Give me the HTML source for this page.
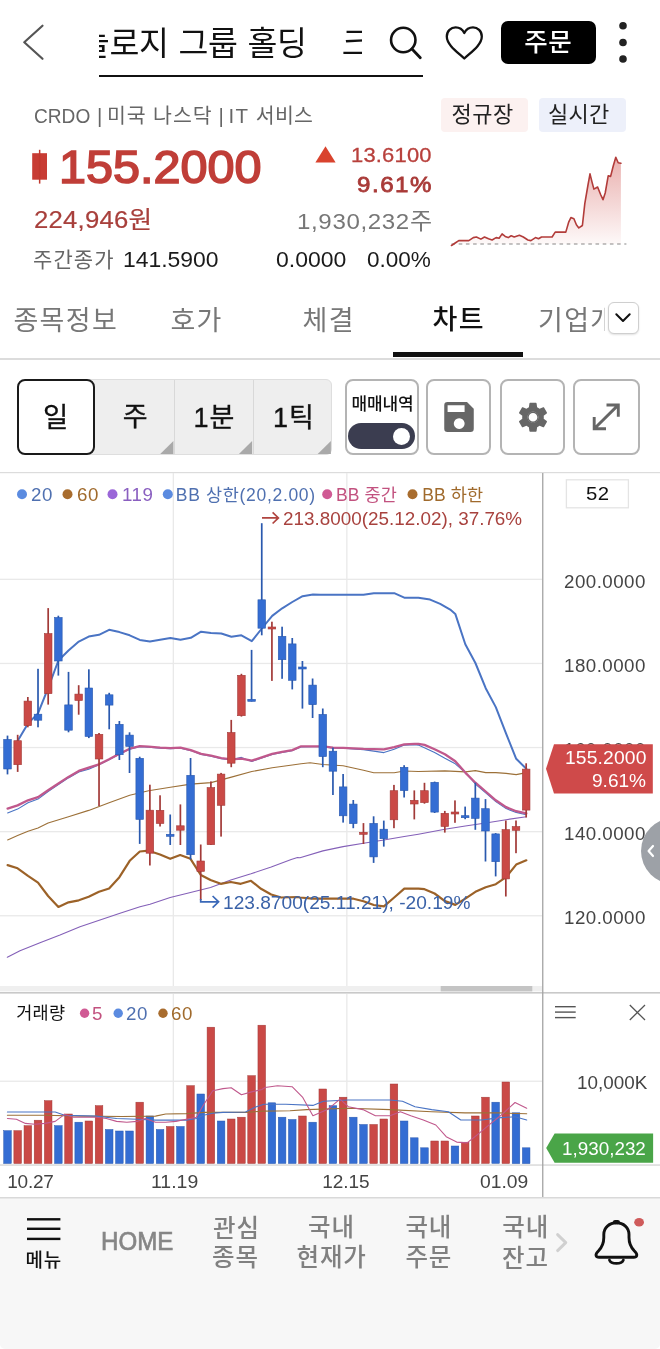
<!DOCTYPE html>
<html lang="ko"><head><meta charset="utf-8"><title>CRDO 차트</title>
<style>
html,body{margin:0;padding:0;background:#fff}
body{width:660px;height:1349px;position:relative;overflow:hidden;font-family:"Liberation Sans","Noto Sans CJK KR",sans-serif}
.t{position:absolute;white-space:pre;line-height:1}
.a{position:absolute}
svg{position:absolute;left:0;top:0}
</style></head><body>

<div class="a" style="left:98.7px;top:0;width:263.4px;height:74px;overflow:hidden">
<span class="t" style="left:10.80px;top:28.00px;font-size:32.5px;letter-spacing:-0.29px;word-spacing:1px;color:#111">로지 그룹 홀딩</span>
<span class="t" style="right:252.60px;top:28.00px;font-size:32.5px;letter-spacing:-0.29px;word-spacing:1px;color:#111">크레도 테크놀</span>
<span class="t" style="left:243.10px;top:28.00px;font-size:32.5px;letter-spacing:-0.29px;word-spacing:1px;color:#111">크레도 테크놀로지 그룹 홀딩</span>
</div>
<div class="a" style="left:98.7px;top:75.4px;width:324.3px;height:2.1px;background:#111"></div>
<div class="a" style="left:500.5px;top:20.75px;width:95.25px;height:43.5px;border-radius:7px;background:#000"></div>
<span class="t" style="left:524.25px;top:30.00px;font-size:25.5px;font-weight:500;letter-spacing:0.5px;color:#fff;">주문</span>
<svg width="660" height="95" viewBox="0 0 660 95">
<path d="M42.5 25.75 L24.25 42.2 L42.5 58.75" fill="none" stroke="#555" stroke-width="2.2" stroke-linecap="round" stroke-linejoin="round"/>
<circle cx="403.25" cy="40" r="12.2" fill="none" stroke="#111" stroke-width="2.6"/>
<path d="M412 49 L420.3 57.8" stroke="#111" stroke-width="2.8" stroke-linecap="round"/>
<path d="M464.3 58.5 C458 52.5 446.8 45 446.8 36.5 C446.8 31 451 27.4 455.6 27.4 C459.4 27.4 462.6 29.6 464.3 33 C466 29.6 469.2 27.4 473 27.4 C477.6 27.4 481.8 31 481.8 36.5 C481.8 45 470.6 52.5 464.3 58.5 Z" fill="none" stroke="#111" stroke-width="2.3" stroke-linejoin="round"/>
<circle cx="623" cy="25.75" r="3.8" fill="#222"/><circle cx="623" cy="42.5" r="3.8" fill="#222"/><circle cx="623" cy="59" r="3.8" fill="#222"/>
</svg>
<span class="t" style="left:34.07px;top:105.50px;font-size:20.5px;transform:scaleX(0.932);transform-origin:0 0;color:#666;">CRDO</span>
<span class="t" style="left:97.00px;top:105.50px;font-size:20.5px;color:#666;">|</span>
<span class="t" style="left:107.00px;top:106.25px;font-size:20.5px;letter-spacing:0.9px;color:#666;">미국 나스닥</span>
<span class="t" style="left:218.40px;top:105.50px;font-size:20.5px;color:#666;">|</span>
<span class="t" style="left:228.50px;top:105.50px;font-size:20.5px;letter-spacing:1.2px;color:#666;">IT</span>
<span class="t" style="left:255.80px;top:106.25px;font-size:20.5px;letter-spacing:0.25px;color:#666;">서비스</span>
<div class="a" style="left:441px;top:98px;width:87px;height:34px;border-radius:4px;background:#fcf1f0"></div>
<div class="a" style="left:538.5px;top:98px;width:87.5px;height:34px;border-radius:4px;background:#edf0fa"></div>
<span class="t" style="left:451.50px;top:104.25px;font-size:22.0px;letter-spacing:0.5px;color:#222;">정규장</span>
<span class="t" style="left:548.00px;top:104.25px;font-size:22.0px;letter-spacing:0.25px;color:#222;">실시간</span>
<span class="t" style="left:58.80px;top:144.55px;font-size:45.5px;letter-spacing:0.01px;transform:scaleX(1.067);transform-origin:0 0;-webkit-text-stroke:1.6px #c03e38;color:#c03e38;">155.2000</span>
<span class="t" style="left:350.63px;top:144.50px;font-size:20.5px;letter-spacing:0.19px;transform:scaleX(1.07);transform-origin:0 0;-webkit-text-stroke:0.3px #b8403c;color:#b8403c;">13.6100</span>
<span class="t" style="left:357.43px;top:173.85px;font-size:22.5px;letter-spacing:1.44px;transform:scaleX(1.07);transform-origin:0 0;-webkit-text-stroke:0.8px #a93a38;color:#a93a38;">9.61%</span>
<span class="t" style="left:33.93px;top:207.75px;font-size:24.0px;letter-spacing:0.22px;transform:scaleX(1.07);transform-origin:0 0;-webkit-text-stroke:0.2px #a8403c;color:#a8403c;">224,946원</span>
<span class="t" style="left:296.86px;top:210.80px;font-size:22.5px;letter-spacing:0.6px;transform:scaleX(1.07);transform-origin:0 0;color:#777;">1,930,232주</span>
<span class="t" style="left:33.00px;top:249.20px;font-size:21.0px;letter-spacing:1.1px;color:#666;">주간종가</span>
<span class="t" style="left:122.92px;top:249.25px;font-size:22.0px;letter-spacing:-0.01px;transform:scaleX(1.042);transform-origin:0 0;color:#1a1a1a;">141.5900</span>
<span class="t" style="left:276.45px;top:249.25px;font-size:22.0px;transform:scaleX(1.046);transform-origin:0 0;color:#1a1a1a;">0.0000</span>
<span class="t" style="left:366.98px;top:249.25px;font-size:22.0px;letter-spacing:-0.01px;transform:scaleX(1.025);transform-origin:0 0;color:#1a1a1a;">0.00%</span>
<svg width="660" height="290" viewBox="0 0 660 290">
<defs><linearGradient id="mg" x1="0" y1="0" x2="0" y2="1"><stop offset="0" stop-color="#d0504c" stop-opacity="0.45"/><stop offset="1" stop-color="#d0504c" stop-opacity="0.03"/></linearGradient></defs>
<rect x="32.2" y="153.2" width="14.8" height="26.5" fill="#c83c34"/><rect x="38.9" y="149.8" width="1.5" height="33.8" fill="#c0392f"/>
<path d="M325.5 146.3 L335.6 162.4 L315.4 162.4 Z" fill="#d9432e"/>
<path d="M451.5 244 L626.4 244" stroke="#b0b0b0" stroke-width="1.5" stroke-dasharray="3.6 3.6"/>
<path d="M451.5 245.5 L455.2 243.0 L458.8 240.6 L468.8 240.6 L473.3 237.6 L476.4 237.0 L480.9 239.1 L484.5 237.0 L488.5 238.8 L492.1 240.0 L496.1 237.6 L499.1 238.2 L502.1 233.9 L505.2 236.4 L508.2 237.6 L511.2 235.8 L514.2 237.0 L519.4 235.2 L523.3 237.0 L527.9 240.0 L530.9 240.6 L535.5 237.6 L538.5 238.8 L541.5 237.0 L552.1 237.0 L555.2 232.1 L565.8 232.1 L568.8 221.8 L570.9 217.6 L573.9 218.8 L576.4 224.8 L578.8 227.9 L582.4 225.5 L584.8 203.6 L587.9 185.5 L590.0 173.9 L592.1 182.4 L593.9 189.1 L597.6 187.0 L600.6 194.5 L603.0 199.7 L605.2 193.0 L608.2 175.8 L610.6 176.4 L613.3 165.8 L615.8 157.3 L618.2 162.7 L620.9 163.3 L620.9 244 L451.5 244 Z" fill="url(#mg)"/>
<path d="M451.5 245.5 L455.2 243.0 L458.8 240.6 L468.8 240.6 L473.3 237.6 L476.4 237.0 L480.9 239.1 L484.5 237.0 L488.5 238.8 L492.1 240.0 L496.1 237.6 L499.1 238.2 L502.1 233.9 L505.2 236.4 L508.2 237.6 L511.2 235.8 L514.2 237.0 L519.4 235.2 L523.3 237.0 L527.9 240.0 L530.9 240.6 L535.5 237.6 L538.5 238.8 L541.5 237.0 L552.1 237.0 L555.2 232.1 L565.8 232.1 L568.8 221.8 L570.9 217.6 L573.9 218.8 L576.4 224.8 L578.8 227.9 L582.4 225.5 L584.8 203.6 L587.9 185.5 L590.0 173.9 L592.1 182.4 L593.9 189.1 L597.6 187.0 L600.6 194.5 L603.0 199.7 L605.2 193.0 L608.2 175.8 L610.6 176.4 L613.3 165.8 L615.8 157.3 L618.2 162.7 L620.9 163.3" fill="none" stroke="#b23c3a" stroke-width="1.6" stroke-linejoin="round" stroke-linecap="round"/>
</svg>
<span class="t" style="left:13.40px;top:307.90px;font-size:27px;letter-spacing:1.37px;color:#777;">종목정보</span>
<span class="t" style="left:170.45px;top:307.90px;font-size:27px;letter-spacing:1.3px;color:#777;">호가</span>
<span class="t" style="left:302.50px;top:307.90px;font-size:27px;letter-spacing:1.3px;color:#777;">체결</span>
<span class="t" style="left:432.50px;top:307.35px;font-size:27px;font-weight:500;letter-spacing:1.3px;color:#111;">차트</span>
<div class="a" style="left:530px;top:295px;width:75.3px;height:50px;overflow:hidden"><span class="t" style="left:8.00px;top:12.90px;font-size:27px;letter-spacing:1.3px;color:#777">기업개요</span></div>
<div class="a" style="left:0;top:357.6px;width:660px;height:2px;background:#dcdcdc"></div>
<div class="a" style="left:392.7px;top:351.6px;width:130.7px;height:5.8px;background:#111"></div>
<div class="a" style="left:608px;top:302.3px;width:29px;height:29.5px;border:1.3px solid #cfcfcf;border-radius:6px;background:#fff;box-shadow:0 1px 2px rgba(0,0,0,.12)"></div>
<svg width="660" height="360" viewBox="0 0 660 360"><path d="M616.3 314.3 L623 321 L629.7 314.3" fill="none" stroke="#111" stroke-width="2" stroke-linecap="round" stroke-linejoin="round"/></svg>
<div class="a" style="left:90px;top:378.8px;width:241.6px;height:75.8px;background:#eee;border-radius:0 6px 6px 0;border:1px solid #dedede;box-sizing:border-box"></div>
<div class="a" style="left:174.0px;top:379.5px;width:1.2px;height:74.5px;background:#d8d8d8"></div>
<div class="a" style="left:252.7px;top:379.5px;width:1.2px;height:74.5px;background:#d8d8d8"></div>
<svg width="660" height="470" viewBox="0 0 660 470">
<path d="M173.4 441 L173.4 454 L160.2 454 Z" fill="#a9a9a9"/>
<path d="M252.1 441 L252.1 454 L238.9 454 Z" fill="#a9a9a9"/>
<path d="M330.9 441 L330.9 454 L317.7 454 Z" fill="#a9a9a9"/>
</svg>
<div class="a" style="left:17px;top:378.75px;width:78px;height:75.75px;box-sizing:border-box;border:2px solid #1a1a1a;border-radius:8px;background:#fff"></div>
<span class="t" style="left:43.00px;top:404.12px;font-size:27.5px;-webkit-text-stroke:0.35px #111;color:#111;">일</span>
<span class="t" style="left:122.75px;top:403.88px;font-size:27px;-webkit-text-stroke:0.35px #111;color:#111;">주</span>
<span class="t" style="left:193.40px;top:404.70px;font-size:27px;letter-spacing:1px;-webkit-text-stroke:0.35px #111;color:#111;">1분</span>
<span class="t" style="left:272.95px;top:404.70px;font-size:27px;letter-spacing:1px;-webkit-text-stroke:0.35px #111;color:#111;">1틱</span>
<div class="a" style="left:345.00px;top:378.75px;width:73.75px;height:75.75px;box-sizing:border-box;border:2px solid #b4b4b4;border-radius:8px;background:#fff"></div>
<div class="a" style="left:425.50px;top:378.75px;width:65.75px;height:75.75px;box-sizing:border-box;border:2px solid #b4b4b4;border-radius:8px;background:#fff"></div>
<div class="a" style="left:499.50px;top:378.75px;width:65.50px;height:75.75px;box-sizing:border-box;border:2px solid #b4b4b4;border-radius:8px;background:#fff"></div>
<div class="a" style="left:573.25px;top:378.75px;width:66.25px;height:75.75px;box-sizing:border-box;border:2px solid #b4b4b4;border-radius:8px;background:#fff"></div>
<span class="t" style="left:351.50px;top:396.15px;font-size:17px;font-weight:500;letter-spacing:-0.17px;color:#111;">매매내역</span>
<div class="a" style="left:348px;top:423px;width:67px;height:25.75px;border-radius:13px;background:#3b3d50"></div>
<div class="a" style="left:392.6px;top:427.6px;width:17.4px;height:17.4px;border-radius:50%;background:#fff"></div>
<svg width="660" height="470" viewBox="0 0 660 470">
<path fill="#666" fill-rule="evenodd" d="M447.5 402 H467 L473.75 408.7 V428.8 A3.2 3.2 0 0 1 470.5 432 H447.5 A3.2 3.2 0 0 1 444.25 428.8 V405.2 A3.2 3.2 0 0 1 447.5 402 Z M447.6 405.2 V412 H464.6 V405.2 Z M459.2 418.2 A5.4 5.4 0 1 0 459.21 418.2 Z"/>
<g transform="translate(515,399.25) scale(1.5)"><path fill="#666" d="M19.14 12.94c.04-.3.06-.61.06-.94 0-.32-.02-.64-.07-.94l2.03-1.58c.18-.14.23-.41.12-.61l-1.92-3.32c-.12-.22-.37-.29-.59-.22l-2.39.96c-.5-.38-1.03-.7-1.62-.94l-.36-2.54c-.04-.24-.24-.41-.48-.41h-3.84c-.24 0-.43.17-.47.41l-.36 2.54c-.59.24-1.13.57-1.62.94l-2.39-.96c-.22-.08-.47 0-.59.22L2.74 8.87c-.12.21-.08.47.12.61l2.03 1.58c-.05.3-.09.63-.09.94s.02.64.07.94l-2.03 1.58c-.18.14-.23.41-.12.61l1.92 3.32c.12.22.37.29.59.22l2.39-.96c.5.38 1.03.7 1.62.94l.36 2.54c.05.24.24.41.48.41h3.84c.24 0 .44-.17.47-.41l.36-2.54c.59-.24 1.13-.56 1.62-.94l2.39.96c.22.08.47 0 .59-.22l1.92-3.32c.12-.22.07-.47-.12-.61l-2.01-1.58zM12 15.6c-1.98 0-3.6-1.62-3.6-3.6s1.62-3.6 3.6-3.6 3.6 1.62 3.6 3.6-1.62 3.6-3.6 3.6z"/></g>
<path d="M595 428 L617.6 405.6 M606.5 405 H618.3 V416.8 M594.2 417 V428.8 H606" fill="none" stroke="#666" stroke-width="2.9"/>
<circle cx="533" cy="417.25" r="5" fill="none" stroke="#666" stroke-width="1.3"/>
</svg>
<svg width="660" height="1200" viewBox="0 0 660 1200">
<rect x="0" y="472" width="660" height="1.2" fill="#dcdcdc"/>
<rect x="0" y="578.7" width="542" height="1.3" fill="#e9e9e9"/>
<rect x="0" y="662.8" width="542" height="1.3" fill="#e9e9e9"/>
<rect x="0" y="746.9" width="542" height="1.3" fill="#e9e9e9"/>
<rect x="0" y="831.0" width="542" height="1.3" fill="#e9e9e9"/>
<rect x="0" y="915.1" width="542" height="1.3" fill="#e9e9e9"/>
<rect x="172.7" y="473" width="1.3" height="513" fill="#e9e9e9"/>
<rect x="172.7" y="994" width="1.3" height="170" fill="#e9e9e9"/>
<rect x="346.2" y="473" width="1.3" height="513" fill="#e9e9e9"/>
<rect x="346.2" y="994" width="1.3" height="170" fill="#e9e9e9"/>
<rect x="0" y="1080.6" width="542" height="1.3" fill="#e9e9e9"/>
<rect x="0" y="986" width="542" height="5.4" fill="#efefef"/>
<rect x="440.7" y="986" width="91.6" height="5.4" fill="#c4c4c4"/>
<rect x="0" y="992" width="660" height="1.6" fill="#c9c9c9"/>
<rect x="0" y="1164.4" width="660" height="1.3" fill="#d4d4d4"/>
<rect x="0" y="1197" width="660" height="1.6" fill="#d9d9d9"/>
<rect x="542.1" y="473" width="1.3" height="724" fill="#a4a4a4"/>
<path d="M7.6 839.9 L17.6 835.6 L28.0 831.3 L38.0 828.0 L48.1 823.0 L68.5 816.7 L88.7 810.4 L109.1 802.8 L129.7 795.3 L148.6 790.8 L170.4 787.2 L190.8 784.1 L211.0 782.6 L231.4 777.1 L251.8 771.5 L272.2 767.8 L292.3 765.0 L301.1 763.7 L310.1 762.7 L322.9 764.5 L343.1 765.7 L363.5 770.3 L373.8 772.8 L394.2 772.8 L404.3 771.0 L418.4 771.5 L444.9 770.9 L455.3 771.4 L465.3 771.9 L475.4 770.6 L485.7 772.6 L495.8 772.6 L506.1 773.4 L516.2 774.6 L526.3 772.6" fill="none" stroke="#9c7038" stroke-width="1.1" stroke-linejoin="round" stroke-linecap="round" opacity="1"/>
<path d="M7.3 957.3 L20.0 950.7 L40.0 942.7 L60.0 935.0 L80.0 926.7 L100.0 920.0 L120.0 913.3 L140.0 906.7 L150.0 904.2 L170.2 897.5 L190.5 892.5 L210.5 887.5 L230.8 880.0 L251.0 873.8 L271.2 867.0 L291.2 859.5 L297.5 857.5 L300.0 857.7 L322.9 850.9 L343.1 846.6 L363.5 843.3 L383.9 840.0 L404.3 836.5 L418.4 834.2 L444.9 829.3 L465.3 826.0 L485.7 823.0 L506.1 819.7 L526.3 816.7" fill="none" stroke="#8460b8" stroke-width="1.1" stroke-linejoin="round" stroke-linecap="round" opacity="1"/>
<path d="M7.6 865.1 L17.6 868.3 L28.0 875.9 L38.0 882.7 L48.1 896.0 L58.4 906.9 L68.5 902.3 L78.8 900.3 L88.7 896.8 L99.0 891.8 L109.1 888.5 L119.4 877.2 L129.7 860.8 L139.8 851.5 L148.6 850.7 L160.0 854.5 L170.2 858.8 L180.2 855.0 L190.5 858.8 L200.8 875.0 L210.5 880.0 L220.8 883.8 L230.8 882.0 L240.8 883.8 L251.0 880.8 L261.0 888.8 L271.2 894.5 L281.2 897.5 L297.5 897.0 L300.0 897.5 L312.8 898.7 L333.0 898.7 L353.4 898.7 L363.5 901.2 L373.8 905.0 L383.9 906.3 L394.2 897.5 L404.3 888.6 L414.6 888.6 L418.4 888.6 L424.5 889.2 L434.6 893.5 L444.9 901.1 L455.3 904.9 L465.3 898.6 L475.4 891.8 L485.7 887.2 L495.8 884.2 L506.1 877.2 L516.2 864.6 L526.3 860.3" fill="none" stroke="#9c6228" stroke-width="2.2" stroke-linejoin="round" stroke-linecap="round" opacity="1"/>
<path d="M17.6 741.1 L28.0 723.5 L38.0 713.4 L48.1 688.2 L58.4 660.5 L68.5 650.5 L78.8 641.6 L88.7 636.6 L99.0 634.8 L109.1 629.8 L119.4 632.1 L129.7 635.3 L139.8 639.9 L149.9 641.6 L160.1 639.8 L170.4 638.0 L180.5 639.8 L190.8 637.8 L201.1 631.7 L211.0 633.0 L221.3 633.5 L231.4 636.8 L241.4 635.3 L251.8 641.1 L261.8 628.5 L272.2 615.9 L282.2 608.3 L292.3 602.0 L302.6 596.2 L313.0 594.5 L320.2 594.7 L333.0 594.7 L363.5 594.7 L373.8 593.2 L394.2 593.2 L404.3 597.7 L418.4 597.7 L430.1 599.6 L440.2 603.9 L450.2 609.6 L455.3 613.9 L465.3 644.2 L475.4 663.0 L485.7 688.2 L495.8 707.1 L506.1 733.6 L516.2 758.8 L526.3 768.8" fill="none" stroke="#4a74c4" stroke-width="2.0" stroke-linejoin="round" stroke-linecap="round" opacity="1"/>
<path d="M7.6 812.9 L17.6 809.1 L28.0 802.8 L38.0 799.1 L48.1 791.5 L58.4 784.5 L68.5 777.9 L78.8 771.9 L88.7 769.3 L99.0 764.8 L109.1 759.8 L119.4 754.2 L129.7 749.2 L139.8 746.7 L148.6 747.2 L160.1 748.1 L170.4 748.6 L180.5 748.1 L190.8 750.6 L201.1 754.4 L211.0 756.2 L221.3 758.7 L231.4 759.9 L241.4 757.4 L251.8 761.5 L261.8 757.9 L272.2 754.4 L282.2 752.4 L292.3 750.6 L301.1 746.9 L312.8 746.8 L322.9 746.8 L333.0 748.1 L343.1 748.3 L363.5 749.6 L383.9 752.6 L394.2 749.3 L404.3 745.1 L414.6 744.8 L418.4 745.1 L434.6 752.5 L444.9 758.3 L455.3 763.8 L465.3 772.6 L475.4 784.0 L485.7 792.8 L495.8 801.6 L506.1 808.6 L516.2 812.4 L526.3 814.7" fill="none" stroke="#4a74c4" stroke-width="1.1" stroke-linejoin="round" stroke-linecap="round" opacity="1"/>
<path d="M7.6 808.6 L17.6 805.4 L28.0 800.3 L38.0 797.1 L48.1 790.3 L58.4 783.5 L68.5 776.9 L78.8 770.9 L88.7 767.6 L99.0 764.3 L109.1 759.3 L119.4 753.7 L129.7 748.7 L139.8 746.2 L148.6 746.7 L160.1 747.6 L170.4 748.1 L180.5 747.6 L190.8 750.1 L201.1 753.9 L211.0 755.7 L221.3 758.2 L231.4 759.4 L241.4 758.7 L251.8 760.7 L261.8 757.4 L272.2 753.9 L282.2 751.9 L292.3 750.1 L301.1 746.3 L312.8 746.3 L322.9 746.3 L333.0 747.6 L343.1 747.8 L363.5 748.8 L383.9 749.3 L394.2 747.1 L404.3 744.3 L414.6 743.8 L418.4 743.8 L424.5 744.9 L434.6 749.2 L444.9 754.2 L455.3 761.3 L465.3 772.6 L475.4 782.7 L485.7 791.5 L495.8 800.3 L506.1 807.1 L516.2 811.2 L526.3 813.4" fill="none" stroke="#c0588c" stroke-width="2.3" stroke-linejoin="round" stroke-linecap="round" opacity="1"/>
<rect x="6.65" y="735.6" width="1.7" height="38.8" fill="#2a59ae"/>
<rect x="3.70" y="739.4" width="7.6" height="29.6" fill="#346dd3" stroke="#2a59ae" stroke-width="0.6"/>
<rect x="16.82" y="734.8" width="1.7" height="37.1" fill="#a23a38"/>
<rect x="13.87" y="740.7" width="7.6" height="24.0" fill="#ca4946" stroke="#a23a38" stroke-width="0.6"/>
<rect x="26.99" y="697.0" width="1.7" height="30.3" fill="#a23a38"/>
<rect x="24.04" y="701.1" width="7.6" height="24.6" fill="#ca4946" stroke="#a23a38" stroke-width="0.6"/>
<rect x="37.16" y="668.8" width="1.7" height="58.5" fill="#2a59ae"/>
<rect x="34.21" y="714.2" width="7.6" height="6.0" fill="#346dd3" stroke="#2a59ae" stroke-width="0.6"/>
<rect x="47.33" y="608.1" width="1.7" height="96.5" fill="#a23a38"/>
<rect x="44.38" y="633.6" width="7.6" height="60.1" fill="#ca4946" stroke="#a23a38" stroke-width="0.6"/>
<rect x="57.50" y="615.7" width="1.7" height="59.9" fill="#2a59ae"/>
<rect x="54.55" y="617.5" width="7.6" height="43.5" fill="#346dd3" stroke="#2a59ae" stroke-width="0.6"/>
<rect x="67.67" y="671.9" width="1.7" height="60.4" fill="#2a59ae"/>
<rect x="64.72" y="704.9" width="7.6" height="25.3" fill="#346dd3" stroke="#2a59ae" stroke-width="0.6"/>
<rect x="77.84" y="685.2" width="1.7" height="29.5" fill="#a23a38"/>
<rect x="74.89" y="694.1" width="7.6" height="6.4" fill="#ca4946" stroke="#a23a38" stroke-width="0.6"/>
<rect x="88.01" y="669.3" width="1.7" height="68.8" fill="#2a59ae"/>
<rect x="85.06" y="688.0" width="7.6" height="48.5" fill="#346dd3" stroke="#2a59ae" stroke-width="0.6"/>
<rect x="98.18" y="733.0" width="1.7" height="73.0" fill="#a23a38"/>
<rect x="95.23" y="734.3" width="7.6" height="24.7" fill="#ca4946" stroke="#a23a38" stroke-width="0.6"/>
<rect x="108.35" y="692.8" width="1.7" height="36.5" fill="#2a59ae"/>
<rect x="105.40" y="694.8" width="7.6" height="10.3" fill="#346dd3" stroke="#2a59ae" stroke-width="0.6"/>
<rect x="118.52" y="721.0" width="1.7" height="39.0" fill="#2a59ae"/>
<rect x="115.57" y="724.3" width="7.6" height="30.4" fill="#346dd3" stroke="#2a59ae" stroke-width="0.6"/>
<rect x="128.69" y="732.3" width="1.7" height="40.7" fill="#2a59ae"/>
<rect x="125.74" y="735.1" width="7.6" height="11.3" fill="#346dd3" stroke="#2a59ae" stroke-width="0.6"/>
<rect x="138.86" y="756.7" width="1.7" height="87.2" fill="#2a59ae"/>
<rect x="135.91" y="758.3" width="7.6" height="61.1" fill="#346dd3" stroke="#2a59ae" stroke-width="0.6"/>
<rect x="149.03" y="784.7" width="1.7" height="80.8" fill="#a23a38"/>
<rect x="146.08" y="810.2" width="7.6" height="43.0" fill="#ca4946" stroke="#a23a38" stroke-width="0.6"/>
<rect x="159.20" y="795.3" width="1.7" height="31.2" fill="#a23a38"/>
<rect x="156.25" y="810.3" width="7.6" height="13.2" fill="#ca4946" stroke="#a23a38" stroke-width="0.6"/>
<rect x="169.37" y="814.5" width="1.7" height="30.5" fill="#2a59ae"/>
<rect x="166.42" y="834.3" width="7.6" height="2.0" fill="#346dd3" stroke="#2a59ae" stroke-width="0.6"/>
<rect x="179.54" y="804.4" width="1.7" height="40.6" fill="#a23a38"/>
<rect x="176.59" y="825.8" width="7.6" height="4.4" fill="#ca4946" stroke="#a23a38" stroke-width="0.6"/>
<rect x="189.71" y="758.0" width="1.7" height="101.5" fill="#2a59ae"/>
<rect x="186.76" y="775.3" width="7.6" height="79.4" fill="#346dd3" stroke="#2a59ae" stroke-width="0.6"/>
<rect x="199.88" y="844.5" width="1.7" height="55.5" fill="#a23a38"/>
<rect x="196.93" y="861.0" width="7.6" height="10.4" fill="#ca4946" stroke="#a23a38" stroke-width="0.6"/>
<rect x="210.05" y="781.4" width="1.7" height="63.6" fill="#a23a38"/>
<rect x="207.10" y="787.6" width="7.6" height="57.1" fill="#ca4946" stroke="#a23a38" stroke-width="0.6"/>
<rect x="220.22" y="772.9" width="1.7" height="63.7" fill="#a23a38"/>
<rect x="217.27" y="774.1" width="7.6" height="31.2" fill="#ca4946" stroke="#a23a38" stroke-width="0.6"/>
<rect x="230.39" y="719.9" width="1.7" height="47.3" fill="#a23a38"/>
<rect x="227.44" y="732.5" width="7.6" height="30.7" fill="#ca4946" stroke="#a23a38" stroke-width="0.6"/>
<rect x="240.56" y="673.8" width="1.7" height="42.8" fill="#a23a38"/>
<rect x="237.61" y="675.3" width="7.6" height="40.4" fill="#ca4946" stroke="#a23a38" stroke-width="0.6"/>
<rect x="250.73" y="649.9" width="1.7" height="51.6" fill="#2a59ae"/>
<rect x="247.78" y="699.3" width="7.6" height="2.0" fill="#346dd3" stroke="#2a59ae" stroke-width="0.6"/>
<rect x="260.90" y="523.2" width="1.7" height="112.1" fill="#2a59ae"/>
<rect x="257.95" y="599.8" width="7.6" height="28.4" fill="#346dd3" stroke="#2a59ae" stroke-width="0.6"/>
<rect x="271.07" y="621.7" width="1.7" height="59.2" fill="#a23a38"/>
<rect x="268.12" y="627.0" width="7.6" height="2.0" fill="#ca4946" stroke="#a23a38" stroke-width="0.6"/>
<rect x="281.24" y="626.7" width="1.7" height="52.1" fill="#2a59ae"/>
<rect x="278.29" y="636.3" width="7.6" height="23.4" fill="#346dd3" stroke="#2a59ae" stroke-width="0.6"/>
<rect x="291.41" y="638.0" width="1.7" height="51.4" fill="#2a59ae"/>
<rect x="288.46" y="643.9" width="7.6" height="36.4" fill="#346dd3" stroke="#2a59ae" stroke-width="0.6"/>
<rect x="301.58" y="661.0" width="1.7" height="47.6" fill="#2a59ae"/>
<rect x="298.63" y="667.0" width="7.6" height="2.0" fill="#346dd3" stroke="#2a59ae" stroke-width="0.6"/>
<rect x="311.75" y="678.5" width="1.7" height="39.5" fill="#2a59ae"/>
<rect x="308.80" y="685.1" width="7.6" height="19.6" fill="#346dd3" stroke="#2a59ae" stroke-width="0.6"/>
<rect x="321.92" y="708.5" width="1.7" height="58.7" fill="#2a59ae"/>
<rect x="318.97" y="714.4" width="7.6" height="42.2" fill="#346dd3" stroke="#2a59ae" stroke-width="0.6"/>
<rect x="332.09" y="747.6" width="1.7" height="47.4" fill="#2a59ae"/>
<rect x="329.14" y="751.2" width="7.6" height="20.0" fill="#346dd3" stroke="#2a59ae" stroke-width="0.6"/>
<rect x="342.26" y="774.0" width="1.7" height="48.6" fill="#2a59ae"/>
<rect x="339.31" y="786.9" width="7.6" height="28.9" fill="#346dd3" stroke="#2a59ae" stroke-width="0.6"/>
<rect x="352.43" y="800.0" width="1.7" height="28.2" fill="#2a59ae"/>
<rect x="349.48" y="804.1" width="7.6" height="19.5" fill="#346dd3" stroke="#2a59ae" stroke-width="0.6"/>
<rect x="362.60" y="823.1" width="1.7" height="20.9" fill="#a23a38"/>
<rect x="359.65" y="832.3" width="7.6" height="2.0" fill="#ca4946" stroke="#a23a38" stroke-width="0.6"/>
<rect x="372.77" y="816.3" width="1.7" height="46.6" fill="#2a59ae"/>
<rect x="369.82" y="823.4" width="7.6" height="33.5" fill="#346dd3" stroke="#2a59ae" stroke-width="0.6"/>
<rect x="382.94" y="820.6" width="1.7" height="26.0" fill="#2a59ae"/>
<rect x="379.99" y="829.2" width="7.6" height="9.5" fill="#346dd3" stroke="#2a59ae" stroke-width="0.6"/>
<rect x="393.11" y="784.9" width="1.7" height="43.3" fill="#a23a38"/>
<rect x="390.16" y="790.7" width="7.6" height="29.1" fill="#ca4946" stroke="#a23a38" stroke-width="0.6"/>
<rect x="403.28" y="765.2" width="1.7" height="32.3" fill="#2a59ae"/>
<rect x="400.33" y="767.3" width="7.6" height="23.3" fill="#346dd3" stroke="#2a59ae" stroke-width="0.6"/>
<rect x="413.45" y="790.4" width="1.7" height="29.0" fill="#a23a38"/>
<rect x="410.50" y="800.3" width="7.6" height="3.7" fill="#ca4946" stroke="#a23a38" stroke-width="0.6"/>
<rect x="423.62" y="782.8" width="1.7" height="20.9" fill="#a23a38"/>
<rect x="420.67" y="790.7" width="7.6" height="11.9" fill="#ca4946" stroke="#a23a38" stroke-width="0.6"/>
<rect x="433.79" y="781.6" width="1.7" height="31.4" fill="#2a59ae"/>
<rect x="430.84" y="782.3" width="7.6" height="29.8" fill="#346dd3" stroke="#2a59ae" stroke-width="0.6"/>
<rect x="443.96" y="810.9" width="1.7" height="21.7" fill="#a23a38"/>
<rect x="441.01" y="813.3" width="7.6" height="13.2" fill="#ca4946" stroke="#a23a38" stroke-width="0.6"/>
<rect x="454.13" y="800.4" width="1.7" height="22.4" fill="#a23a38"/>
<rect x="451.18" y="812.0" width="7.6" height="2.0" fill="#ca4946" stroke="#a23a38" stroke-width="0.6"/>
<rect x="464.30" y="806.6" width="1.7" height="12.6" fill="#2a59ae"/>
<rect x="461.35" y="815.7" width="7.6" height="2.0" fill="#346dd3" stroke="#2a59ae" stroke-width="0.6"/>
<rect x="474.47" y="782.7" width="1.7" height="47.1" fill="#2a59ae"/>
<rect x="471.52" y="798.1" width="7.6" height="20.3" fill="#346dd3" stroke="#2a59ae" stroke-width="0.6"/>
<rect x="484.64" y="799.1" width="1.7" height="62.4" fill="#2a59ae"/>
<rect x="481.69" y="808.7" width="7.6" height="22.3" fill="#346dd3" stroke="#2a59ae" stroke-width="0.6"/>
<rect x="494.81" y="833.1" width="1.7" height="43.3" fill="#2a59ae"/>
<rect x="491.86" y="833.9" width="7.6" height="27.8" fill="#346dd3" stroke="#2a59ae" stroke-width="0.6"/>
<rect x="504.98" y="820.5" width="1.7" height="76.0" fill="#a23a38"/>
<rect x="502.03" y="829.6" width="7.6" height="49.3" fill="#ca4946" stroke="#a23a38" stroke-width="0.6"/>
<rect x="515.15" y="820.5" width="1.7" height="32.7" fill="#a23a38"/>
<rect x="512.20" y="826.6" width="7.6" height="3.7" fill="#ca4946" stroke="#a23a38" stroke-width="0.6"/>
<rect x="525.32" y="763.3" width="1.7" height="54.2" fill="#a23a38"/>
<rect x="522.37" y="769.1" width="7.6" height="41.0" fill="#ca4946" stroke="#a23a38" stroke-width="0.6"/>
<path d="M262 517.9 H278 M272.6 512.3 L278.4 517.9 L272.6 523.5" fill="none" stroke="#b0443f" stroke-width="1.7"/>
<path d="M200.7 899 V901.8 H218 M212.6 896 L218.6 901.8 L212.6 907.6" fill="none" stroke="#3a68b8" stroke-width="1.7"/>
<circle cx="22.0" cy="494.3" r="5" fill="#5b8be0"/>
<circle cx="67.5" cy="494.3" r="5" fill="#a86c2e"/>
<circle cx="112.5" cy="494.3" r="5" fill="#9a66d8"/>
<circle cx="167.8" cy="494.3" r="5" fill="#5b8be0"/>
<circle cx="327.2" cy="494.3" r="5" fill="#d05a94"/>
<circle cx="412.5" cy="494.3" r="5" fill="#a86c2e"/>
<rect x="566.4" y="479.8" width="62" height="28" fill="#fff" stroke="#e4e4e4" stroke-width="1.3"/>
<rect x="3.70" y="1130.7" width="7.6" height="32.8" fill="#346dd3" stroke="#2a59ae" stroke-width="0.5"/>
<rect x="13.87" y="1130.7" width="7.6" height="32.8" fill="#ca4946" stroke="#a23a38" stroke-width="0.5"/>
<rect x="24.04" y="1125.7" width="7.6" height="37.8" fill="#ca4946" stroke="#a23a38" stroke-width="0.5"/>
<rect x="34.21" y="1120.2" width="7.6" height="43.2" fill="#ca4946" stroke="#a23a38" stroke-width="0.5"/>
<rect x="44.38" y="1100.7" width="7.6" height="62.8" fill="#ca4946" stroke="#a23a38" stroke-width="0.5"/>
<rect x="54.55" y="1125.7" width="7.6" height="37.8" fill="#346dd3" stroke="#2a59ae" stroke-width="0.5"/>
<rect x="64.72" y="1114.0" width="7.6" height="49.5" fill="#ca4946" stroke="#a23a38" stroke-width="0.5"/>
<rect x="74.89" y="1122.2" width="7.6" height="41.2" fill="#346dd3" stroke="#2a59ae" stroke-width="0.5"/>
<rect x="85.06" y="1121.0" width="7.6" height="42.5" fill="#ca4946" stroke="#a23a38" stroke-width="0.5"/>
<rect x="95.23" y="1105.7" width="7.6" height="57.8" fill="#ca4946" stroke="#a23a38" stroke-width="0.5"/>
<rect x="105.40" y="1129.5" width="7.6" height="34.0" fill="#346dd3" stroke="#2a59ae" stroke-width="0.5"/>
<rect x="115.57" y="1131.0" width="7.6" height="32.5" fill="#346dd3" stroke="#2a59ae" stroke-width="0.5"/>
<rect x="125.74" y="1131.0" width="7.6" height="32.5" fill="#346dd3" stroke="#2a59ae" stroke-width="0.5"/>
<rect x="135.91" y="1102.2" width="7.6" height="61.2" fill="#ca4946" stroke="#a23a38" stroke-width="0.5"/>
<rect x="146.08" y="1116.0" width="7.6" height="47.5" fill="#346dd3" stroke="#2a59ae" stroke-width="0.5"/>
<rect x="156.25" y="1129.5" width="7.6" height="34.0" fill="#346dd3" stroke="#2a59ae" stroke-width="0.5"/>
<rect x="166.42" y="1126.5" width="7.6" height="37.0" fill="#ca4946" stroke="#a23a38" stroke-width="0.5"/>
<rect x="176.59" y="1126.5" width="7.6" height="37.0" fill="#346dd3" stroke="#2a59ae" stroke-width="0.5"/>
<rect x="186.76" y="1085.7" width="7.6" height="77.8" fill="#ca4946" stroke="#a23a38" stroke-width="0.5"/>
<rect x="196.93" y="1094.0" width="7.6" height="69.5" fill="#346dd3" stroke="#2a59ae" stroke-width="0.5"/>
<rect x="207.10" y="1027.2" width="7.6" height="136.2" fill="#ca4946" stroke="#a23a38" stroke-width="0.5"/>
<rect x="217.27" y="1121.0" width="7.6" height="42.5" fill="#346dd3" stroke="#2a59ae" stroke-width="0.5"/>
<rect x="227.44" y="1119.0" width="7.6" height="44.5" fill="#ca4946" stroke="#a23a38" stroke-width="0.5"/>
<rect x="237.61" y="1117.2" width="7.6" height="46.2" fill="#ca4946" stroke="#a23a38" stroke-width="0.5"/>
<rect x="247.78" y="1075.7" width="7.6" height="87.8" fill="#ca4946" stroke="#a23a38" stroke-width="0.5"/>
<rect x="257.95" y="1025.2" width="7.6" height="138.2" fill="#ca4946" stroke="#a23a38" stroke-width="0.5"/>
<rect x="268.12" y="1102.8" width="7.6" height="60.8" fill="#346dd3" stroke="#2a59ae" stroke-width="0.5"/>
<rect x="278.29" y="1117.2" width="7.6" height="46.2" fill="#346dd3" stroke="#2a59ae" stroke-width="0.5"/>
<rect x="288.46" y="1119.5" width="7.6" height="44.0" fill="#346dd3" stroke="#2a59ae" stroke-width="0.5"/>
<rect x="298.63" y="1116.0" width="7.6" height="47.5" fill="#ca4946" stroke="#a23a38" stroke-width="0.5"/>
<rect x="308.80" y="1122.2" width="7.6" height="41.2" fill="#346dd3" stroke="#2a59ae" stroke-width="0.5"/>
<rect x="318.97" y="1089.0" width="7.6" height="74.5" fill="#ca4946" stroke="#a23a38" stroke-width="0.5"/>
<rect x="329.14" y="1105.7" width="7.6" height="57.8" fill="#346dd3" stroke="#2a59ae" stroke-width="0.5"/>
<rect x="339.31" y="1097.2" width="7.6" height="66.2" fill="#ca4946" stroke="#a23a38" stroke-width="0.5"/>
<rect x="349.48" y="1117.2" width="7.6" height="46.2" fill="#346dd3" stroke="#2a59ae" stroke-width="0.5"/>
<rect x="359.65" y="1124.5" width="7.6" height="39.0" fill="#346dd3" stroke="#2a59ae" stroke-width="0.5"/>
<rect x="369.82" y="1124.5" width="7.6" height="39.0" fill="#ca4946" stroke="#a23a38" stroke-width="0.5"/>
<rect x="379.99" y="1119.0" width="7.6" height="44.5" fill="#ca4946" stroke="#a23a38" stroke-width="0.5"/>
<rect x="390.16" y="1084.0" width="7.6" height="79.5" fill="#ca4946" stroke="#a23a38" stroke-width="0.5"/>
<rect x="400.33" y="1121.0" width="7.6" height="42.5" fill="#346dd3" stroke="#2a59ae" stroke-width="0.5"/>
<rect x="410.50" y="1137.8" width="7.6" height="25.8" fill="#346dd3" stroke="#2a59ae" stroke-width="0.5"/>
<rect x="420.67" y="1147.8" width="7.6" height="15.8" fill="#346dd3" stroke="#2a59ae" stroke-width="0.5"/>
<rect x="430.84" y="1141.0" width="7.6" height="22.5" fill="#ca4946" stroke="#a23a38" stroke-width="0.5"/>
<rect x="441.01" y="1141.0" width="7.6" height="22.5" fill="#ca4946" stroke="#a23a38" stroke-width="0.5"/>
<rect x="451.18" y="1146.0" width="7.6" height="17.5" fill="#346dd3" stroke="#2a59ae" stroke-width="0.5"/>
<rect x="461.35" y="1142.2" width="7.6" height="21.2" fill="#ca4946" stroke="#a23a38" stroke-width="0.5"/>
<rect x="471.52" y="1116.0" width="7.6" height="47.5" fill="#ca4946" stroke="#a23a38" stroke-width="0.5"/>
<rect x="481.69" y="1097.2" width="7.6" height="66.2" fill="#ca4946" stroke="#a23a38" stroke-width="0.5"/>
<rect x="491.86" y="1102.2" width="7.6" height="61.2" fill="#346dd3" stroke="#2a59ae" stroke-width="0.5"/>
<rect x="502.03" y="1082.0" width="7.6" height="81.5" fill="#ca4946" stroke="#a23a38" stroke-width="0.5"/>
<rect x="512.20" y="1112.8" width="7.6" height="50.8" fill="#346dd3" stroke="#2a59ae" stroke-width="0.5"/>
<rect x="522.37" y="1147.8" width="7.6" height="15.8" fill="#346dd3" stroke="#2a59ae" stroke-width="0.5"/>
<path d="M7.4 1115.2 L45.0 1115.2 L81.8 1116.1 L122.7 1116.5 L155.5 1116.1 L165.7 1114.0 L186.2 1113.6 L204.6 1112.4 L245.5 1112.4 L263.9 1111.1 L290.0 1110.8 L306.7 1109.6 L348.3 1108.3 L390.0 1109.6 L431.7 1111.7 L465.0 1112.9 L498.3 1112.9 L526.7 1113.8" fill="none" stroke="#9c7038" stroke-width="1.1" stroke-linejoin="round" stroke-linecap="round" opacity="1"/>
<path d="M7.4 1112.0 L55.2 1112.0 L64.6 1115.2 L96.2 1116.1 L116.6 1118.5 L137.1 1119.3 L155.5 1120.1 L186.2 1120.1 L196.4 1118.5 L203.4 1115.2 L212.8 1113.2 L223.0 1112.4 L245.5 1112.0 L255.7 1107.1 L263.9 1104.2 L285.8 1104.2 L312.9 1105.4 L323.3 1101.2 L348.3 1100.0 L390.0 1100.0 L402.5 1101.2 L415.0 1106.7 L431.7 1109.6 L448.3 1111.7 L460.8 1120.0 L481.7 1120.0 L498.3 1117.9 L515.0 1116.7 L526.7 1120.0" fill="none" stroke="#4a74c4" stroke-width="1.1" stroke-linejoin="round" stroke-linecap="round" opacity="1"/>
<path d="M7.4 1118.5 L16.4 1119.3 L25.4 1123.4 L34.8 1124.2 L45.0 1123.4 L55.2 1121.4 L64.6 1114.4 L73.6 1117.3 L83.9 1117.3 L96.2 1117.3 L106.4 1118.5 L116.6 1121.4 L126.8 1122.2 L137.1 1121.4 L145.3 1118.5 L155.5 1122.2 L165.7 1122.2 L175.9 1121.4 L186.2 1119.3 L196.4 1117.3 L203.4 1105.0 L212.8 1090.7 L223.0 1088.6 L231.2 1087.8 L241.4 1094.8 L251.6 1091.9 L261.9 1089.5 L265.0 1087.5 L277.5 1085.8 L292.1 1086.7 L302.5 1097.1 L312.9 1115.8 L327.5 1109.6 L340.0 1099.2 L348.3 1106.7 L362.9 1109.6 L375.4 1115.8 L390.0 1115.8 L400.4 1111.7 L410.8 1115.8 L423.3 1120.0 L435.8 1125.0 L446.2 1136.7 L456.7 1142.1 L467.1 1142.9 L477.5 1134.6 L490.0 1124.2 L500.4 1115.8 L515.0 1102.5 L526.7 1108.3" fill="none" stroke="#c0588c" stroke-width="1.1" stroke-linejoin="round" stroke-linecap="round" opacity="1"/>
<circle cx="84.6" cy="1013.2" r="4.7" fill="#d05a94"/>
<circle cx="118.2" cy="1013.2" r="4.7" fill="#5b8be0"/>
<circle cx="163.0" cy="1013.2" r="4.7" fill="#a86c2e"/>
<rect x="555" y="1006.0" width="20.7" height="1.4" fill="#555"/>
<rect x="555" y="1011.4" width="20.7" height="1.4" fill="#555"/>
<rect x="555" y="1016.9" width="20.7" height="1.4" fill="#555"/>
<path d="M629.8 1005 L645 1020 M645 1005 L629.8 1020" stroke="#555" stroke-width="1.3"/>
</svg>
<span class="t" style="left:30.90px;top:486.60px;font-size:17.5px;letter-spacing:0.5px;transform:scaleX(1.07);transform-origin:0 0;color:#4f70b0;">20</span>
<span class="t" style="left:76.50px;top:486.60px;font-size:17.5px;letter-spacing:0.5px;transform:scaleX(1.07);transform-origin:0 0;color:#a06a2c;">60</span>
<span class="t" style="left:121.93px;top:486.60px;font-size:17.5px;letter-spacing:0.5px;transform:scaleX(1.07);transform-origin:0 0;color:#8a5fc0;">119</span>
<span class="t" style="left:175.80px;top:486.60px;font-size:17.5px;letter-spacing:0.68px;color:#4f70b0;">BB 상한(20,2.00)</span>
<span class="t" style="left:336.00px;top:486.60px;font-size:17.5px;letter-spacing:0.1px;color:#c2527f;">BB 중간</span>
<span class="t" style="left:422.30px;top:486.60px;font-size:17.5px;letter-spacing:0.12px;color:#a06a2c;">BB 하한</span>
<span class="t" style="left:282.95px;top:509.85px;font-size:18.0px;transform:scaleX(1.048);transform-origin:0 0;color:#a8423e;">213.8000(25.12.02), 37.76%</span>
<span class="t" style="left:223.47px;top:893.70px;font-size:18.5px;transform:scaleX(1.034);transform-origin:0 0;color:#3a62a8;">123.8700(25.11.21), -20.19%</span>
<span class="t" style="left:585.63px;top:484.40px;font-size:19.0px;letter-spacing:0.5px;transform:scaleX(1.07);transform-origin:0 0;color:#111;">52</span>
<span class="t" style="left:564.43px;top:574.20px;font-size:17.5px;letter-spacing:0.44px;transform:scaleX(1.07);transform-origin:0 0;color:#444;">200.0000</span>
<span class="t" style="left:564.43px;top:657.90px;font-size:17.5px;letter-spacing:0.44px;transform:scaleX(1.07);transform-origin:0 0;color:#444;">180.0000</span>
<span class="t" style="left:564.43px;top:742.10px;font-size:17.5px;letter-spacing:0.44px;transform:scaleX(1.07);transform-origin:0 0;color:#444;">160.0000</span>
<span class="t" style="left:564.43px;top:826.20px;font-size:17.5px;letter-spacing:0.44px;transform:scaleX(1.07);transform-origin:0 0;color:#444;">140.0000</span>
<span class="t" style="left:564.43px;top:910.30px;font-size:17.5px;letter-spacing:0.44px;transform:scaleX(1.07);transform-origin:0 0;color:#444;">120.0000</span>
<span class="t" style="left:16.20px;top:1005.15px;font-size:17.5px;letter-spacing:0.25px;color:#111;">거래량</span>
<span class="t" style="left:92.43px;top:1006.00px;font-size:17.5px;transform:scaleX(1.07);transform-origin:0 0;color:#c2527f;">5</span>
<span class="t" style="left:125.55px;top:1006.00px;font-size:17.5px;letter-spacing:0.5px;transform:scaleX(1.07);transform-origin:0 0;color:#4f70b0;">20</span>
<span class="t" style="left:171.15px;top:1006.00px;font-size:17.5px;letter-spacing:0.5px;transform:scaleX(1.07);transform-origin:0 0;color:#a06a2c;">60</span>
<span class="t" style="left:576.88px;top:1073.60px;font-size:18.5px;transform:scaleX(1.019);transform-origin:0 0;color:#444;">10,000K</span>
<span class="t" style="left:7.30px;top:1172.15px;font-size:19.0px;letter-spacing:-0.25px;color:#444;">10.27</span>
<span class="t" style="left:150.68px;top:1172.15px;font-size:19.0px;transform:scaleX(1.023);transform-origin:0 0;color:#444;">11.19</span>
<span class="t" style="left:322.30px;top:1172.15px;font-size:19.0px;letter-spacing:-0.08px;color:#444;">12.15</span>
<span class="t" style="left:479.79px;top:1172.15px;font-size:19.0px;transform:scaleX(1.015);transform-origin:0 0;color:#444;">01.09</span>
<svg width="660" height="1200" viewBox="0 0 660 1200">
<path d="M546 768.8 L554 744.2 H652.8 V793.4 H554 Z" fill="#cf4a4a"/>
<path d="M546.2 1148 L554.6 1133.4 H653.1 V1162.7 H554.6 Z" fill="#4aa548"/>
<circle cx="674.2" cy="851" r="33.2" fill="#9da1a7"/>
<path d="M653 846 L648.6 851 L653 856" fill="none" stroke="#fff" stroke-width="2.2" stroke-linecap="round" stroke-linejoin="round"/>
</svg>
<span class="t" style="left:565.18px;top:748.95px;font-size:18.0px;letter-spacing:0.14px;transform:scaleX(1.07);transform-origin:0 0;color:#fff;">155.2000</span>
<span class="t" style="left:591.77px;top:771.90px;font-size:18.5px;transform:scaleX(1.031);transform-origin:0 0;color:#fff;">9.61%</span>
<span class="t" style="left:562.45px;top:1139.75px;font-size:18.0px;transform:scaleX(1.047);transform-origin:0 0;color:#fff;">1,930,232</span>
<div class="a" style="left:0;top:1198.6px;width:660px;height:151px;background:#f7f7f7"></div>
<svg width="660" height="1349" viewBox="0 0 660 1349">
<rect x="27" y="1218.1" width="33.4" height="2.4" fill="#111"/><rect x="27" y="1227.6" width="33.4" height="2.4" fill="#111"/><rect x="27" y="1237.7" width="33.4" height="2.4" fill="#111"/>
<path d="M557.6 1234.6 L565.8 1242.6 L557.6 1250.6" fill="none" stroke="#d0d0d0" stroke-width="2.9" stroke-linecap="round" stroke-linejoin="round"/>
<path d="M616.4 1222.8 C609.3 1222.8 603.8 1227.8 603.8 1234.6 L603.8 1237.5 C603.8 1244 601.6 1247.6 598.6 1250.8 C596.6 1252.8 595.7 1254.2 596.1 1255.6 C596.5 1257 597.7 1257.3 599.1 1257.3 H633.7 C635.1 1257.3 636.3 1257 636.7 1255.6 C637.1 1254.2 636.2 1252.8 634.2 1250.8 C631.2 1247.6 629 1244 629 1237.5 L629 1234.6 C629 1227.8 623.5 1222.8 616.4 1222.8 Z" fill="none" stroke="#111" stroke-width="2.9" stroke-linejoin="round"/>
<rect x="612.9" y="1220" width="7" height="4.2" rx="2.1" fill="#111"/>
<path d="M609.4 1260 C611.2 1264.6 621.6 1264.6 623.4 1260" fill="none" stroke="#111" stroke-width="2.7" stroke-linecap="round"/>
<ellipse cx="639.1" cy="1222.2" rx="4.9" ry="4.3" fill="#cf5b5b"/>
<path d="M0 1349 V1344 A5 5 0 0 0 5 1349 Z" fill="#fff"/><path d="M660 1349 V1344 A5 5 0 0 1 655 1349 Z" fill="#fff"/>
</svg>
<span class="t" style="left:25.60px;top:1250.50px;font-size:19.0px;font-weight:500;letter-spacing:0.7px;color:#111;">메뉴</span>
<span class="t" style="left:101.45px;top:1228.15px;font-size:26.0px;letter-spacing:-0.01px;transform:scaleX(0.927);transform-origin:0 0;-webkit-text-stroke:0.7px #868686;color:#868686;">HOME</span>
<span class="t" style="left:213.05px;top:1216.70px;font-size:24.5px;font-weight:500;letter-spacing:0.8px;color:#808080;">관심</span>
<span class="t" style="left:212.05px;top:1245.65px;font-size:24.5px;font-weight:500;letter-spacing:0.8px;color:#808080;">종목</span>
<span class="t" style="left:308.10px;top:1215.80px;font-size:24.5px;font-weight:500;letter-spacing:0.8px;color:#808080;">국내</span>
<span class="t" style="left:296.60px;top:1246.15px;font-size:24.5px;font-weight:500;letter-spacing:0.8px;color:#808080;">현재가</span>
<span class="t" style="left:405.50px;top:1215.80px;font-size:24.5px;font-weight:500;letter-spacing:0.8px;color:#808080;">국내</span>
<span class="t" style="left:405.45px;top:1245.60px;font-size:24.5px;font-weight:500;letter-spacing:0.8px;color:#808080;">주문</span>
<span class="t" style="left:502.35px;top:1215.80px;font-size:24.5px;font-weight:500;letter-spacing:0.8px;color:#808080;">국내</span>
<span class="t" style="left:502.10px;top:1246.60px;font-size:24.5px;font-weight:500;letter-spacing:0.8px;color:#808080;">잔고</span>
</body></html>
